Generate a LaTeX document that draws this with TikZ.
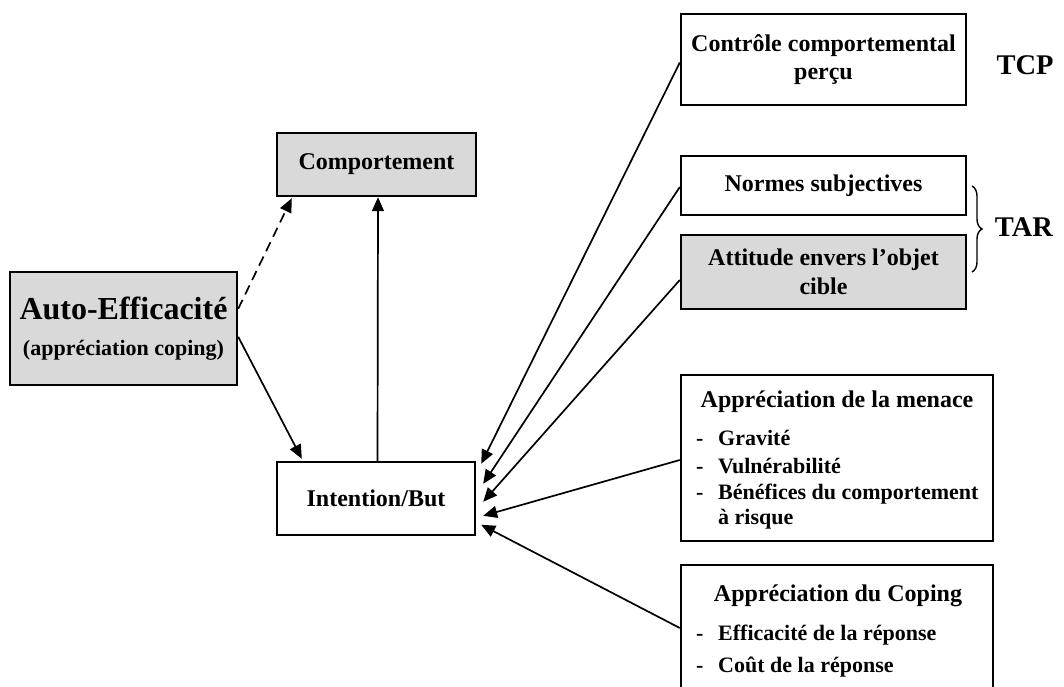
\documentclass[tikz,border=0pt]{standalone}
\usepackage{fontspec}
\setmainfont{Liberation Serif}
\usetikzlibrary{arrows.meta,calc,decorations.pathreplacing}
\definecolor{boxgray}{RGB}{217,217,217}
\begin{document}
\begin{tikzpicture}[x=1pt,y=-1pt,
  box/.style={draw=black,line width=2.4pt,rectangle,inner sep=0pt,align=center,font=\bfseries\fontsize{24}{28.5}\selectfont},
  grey/.style={fill=boxgray},
  arr/.style={line width=1.7pt,-{Triangle[length=14pt,width=12pt]}},
  txt/.style={inner sep=0pt,font=\bfseries\fontsize{24}{28}\selectfont},
  itm/.style={inner sep=0pt,anchor=base west,font=\bfseries\fontsize{22}{26}\selectfont},
  big/.style={inner sep=0pt,font=\bfseries\fontsize{28.5}{32}\selectfont},
]
\clip (0,0) rectangle (1064,687);
\fill[white] (0,0) rectangle (1064,687);

% left part
\node[box,grey,minimum width=199pt,minimum height=63pt] (comp) at (376.5,164.5) {Comportement};
\node[box,grey,minimum width=227pt,minimum height=113pt] (auto) at (123.5,328.5)
  {{\fontsize{32}{36}\selectfont Auto-Efficacité}\\[8pt]{\fontsize{22}{26}\selectfont (appréciation coping)}};
\node[box,minimum width=198pt,minimum height=73pt] (intent) at (376,498.5) {Intention/But};

% right column
\node[box,minimum width=285pt,minimum height=91pt] (ctrl) at (823.5,59.5) {Contrôle comportemental\\perçu};
\node[box,minimum width=285pt,minimum height=59pt] (normes) at (823.5,185.5) {Normes subjectives};
\node[box,grey,minimum width=285pt,minimum height=74pt] (attit) at (823.5,272) {Attitude envers l’objet\\cible};
\node[box,minimum width=312pt,minimum height=166pt] (menace) at (837,458) {};
\node[box,minimum width=312pt,minimum height=126pt] (coping) at (837,628) {};

% menace content
\node[txt,anchor=base] (menT) at (837,407) {Appréciation de la menace};
\node[itm] (m1d) at (696,445) {-};
\node[itm] (m1) at (718,445) {Gravité};
\node[itm] (m2d) at (696,473) {-};
\node[itm] (m2) at (718,473) {Vulnérabilité};
\node[itm] (m3d) at (696,499) {-};
\node[itm] (m3) at (718,499) {Bénéfices du comportement};
\node[itm] (m4) at (718,524) {à risque};

% coping content
\node[txt,anchor=base] (copT) at (838,601) {Appréciation du Coping};
\node[itm] (c1d) at (696,640) {-};
\node[itm] (c1) at (718,640) {Efficacité de la réponse};
\node[itm] (c2d) at (696,672) {-};
\node[itm] (c2) at (718,672) {Coût de la réponse};

% theory labels
\node[big] (tcp) at (1025,65) {TCP};
\node[big] (tar) at (1024,227) {TAR};
\coordinate (bt) at (972,186);
\coordinate (bb) at (972,272);
\draw[decorate,decoration={brace,amplitude=10pt},line width=1.4pt] (bt) -- (bb);

% connectors
\draw[arr,dashed,dash pattern=on 10pt off 6pt] ($(auto.north east)+(0,38)$) -- ($(comp.south west)+(16,1)$);
\draw[arr] ($(auto.north east)+(0,66)$) -- ($(intent.north west)+(26,-2)$);
\draw[arr] ($(intent.north)+(1.5,0)$) -- ($(comp.south)+(1.5,0)$);
\draw[arr] ($(ctrl.west)+(0,3)$) -- ($(intent.north east)+(5,3)$);
\draw[arr] ($(normes.west)+(0,1.5)$) -- ($(intent.north east)+(7,23)$);
\draw[arr] ($(attit.west)+(0,8)$) -- ($(intent.north east)+(7,41)$);
\draw[arr] ($(menace.west)+(0,2)$) -- ($(intent.north east)+(7,55)$);
\draw[arr] (coping.west) -- ($(intent.north east)+(5,64)$);
\end{tikzpicture}
\end{document}
